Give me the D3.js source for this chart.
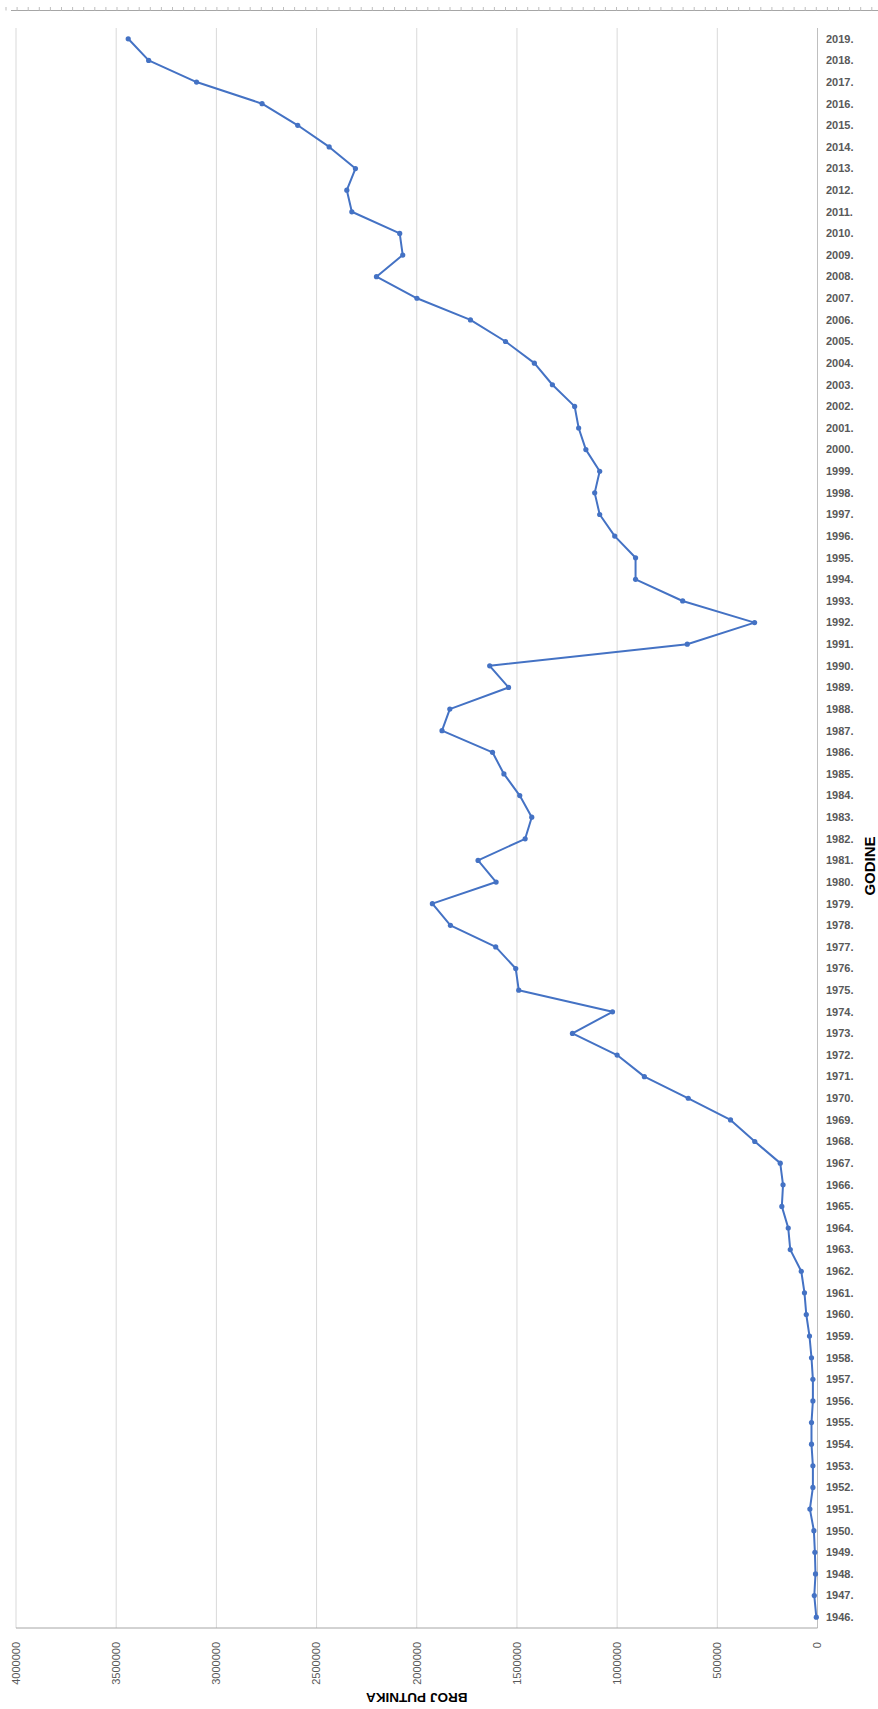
<!DOCTYPE html>
<html>
<head>
<meta charset="utf-8">
<script src="https://cdn.jsdelivr.net/npm/d3@7"></script>
<style>
body { margin: 0; background: #fff; }
</style>
</head>
<body>
<script>
var godine = d3.range(1946, 2020)
var putnici = [6000, 16000, 10000, 13000, 18000, 38000, 23000, 23000, 30000, 30000,
  23000, 23000, 30000, 40000, 56000, 65000, 81000, 136000, 146000, 178000,
  172000, 186000, 313000, 434000, 645000, 864000, 1000000, 1223000, 1023000, 1491000,
  1506000, 1606000, 1832000, 1922000, 1604000, 1694000, 1459000, 1426000, 1486000, 1565000,
  1622000, 1874000, 1835000, 1542000, 1636000, 650000, 314000, 673000, 908000, 908000,
  1012000, 1087000, 1112000, 1087000, 1156000, 1192000, 1212000, 1323000, 1413000, 1557000,
  1732000, 1999000, 2201000, 2070000, 2085000, 2324000, 2349000, 2306000, 2437000, 2594000,
  2772000, 3099000, 3338000, 3440000]
var oznakeVr = [0, 500000, 1000000, 1500000, 2000000, 2500000, 3000000, 3500000, 4000000]
var naslovX = "BROJ PUTNIKA"
var naslovY = "GODINE"

var dane = godine.map(function(g, i) { return {god: g, val: putnici[i]} })

var svg = d3.select("body").append("svg")
  .attr("width", 878)
  .attr("height", 1709)

var lewo = 16, prawo = 817.5, gora = 28, dol = 1628

var x = d3.scaleLinear().domain([0, 4000000]).range([prawo, lewo])
var y = d3.scaleBand().domain(godine).range([dol, gora])
var pol = y.bandwidth() / 2

// pasek na gorze (resztka osi)
svg.append("line").attr("x1", 11).attr("x2", 878).attr("y1", 10.5).attr("y2", 10.5)
  .style("stroke", "#a6a6a6").style("stroke-width", 1)
svg.append("g").selectAll("line")
  .data(d3.range(6, 878, 11.1))
  .enter()
  .append("line")
  .attr("x1", function(d) { return d }).attr("x2", function(d) { return d })
  .attr("y1", 7).attr("y2", 10.5)
  .style("stroke", "#bdbdbd").style("stroke-width", 1)

// linie siatki
svg.append("g").selectAll("line")
  .data(oznakeVr.filter(function(d) { return d > 0 }))
  .enter()
  .append("line")
  .attr("x1", function(d) { return x(d) }).attr("x2", function(d) { return x(d) })
  .attr("y1", gora).attr("y2", dol)
  .style("stroke", "#d9d9d9").style("stroke-width", 1)

// osie
svg.append("line").attr("x1", prawo).attr("x2", prawo).attr("y1", gora).attr("y2", dol)
  .style("stroke", "#bfbfbf").style("stroke-width", 1)
svg.append("line").attr("x1", lewo).attr("x2", prawo).attr("y1", dol).attr("y2", dol)
  .style("stroke", "#a6a6a6").style("stroke-width", 1)

// etykiety wartosci
svg.append("g").selectAll("text")
  .data(oznakeVr)
  .enter()
  .append("text")
  .attr("transform", function(d) { return "translate(" + x(d) + ",1642) rotate(-90)" })
  .attr("text-anchor", "end")
  .attr("dy", "0.35em")
  .style("font-family", "'Liberation Sans', Arial, sans-serif")
  .style("font-size", "11px")
  .style("fill", "#595959")
  .text(function(d) { return d })

// etykiety lat
svg.append("g").selectAll("text")
  .data(godine)
  .enter()
  .append("text")
  .attr("x", 826)
  .attr("y", function(d) { return y(d) + pol })
  .attr("dy", "0.35em")
  .style("font-family", "'Liberation Sans', Arial, sans-serif")
  .style("font-size", "11px")
  .style("font-weight", "bold")
  .style("fill", "#595959")
  .text(function(d) { return d + "." })

// tytuly osi
svg.append("text")
  .attr("transform", "translate(" + (lewo + prawo) / 2 + ",1698) rotate(180)")
  .attr("text-anchor", "middle")
  .attr("dy", "0.35em")
  .style("font-family", "'Liberation Sans', Arial, sans-serif")
  .style("font-size", "13.5px")
  .style("font-weight", "bold")
  .style("fill", "#000")
  .text(naslovX)
svg.append("text")
  .attr("transform", "translate(870,866) rotate(-90)")
  .attr("text-anchor", "middle")
  .attr("dy", "0.35em")
  .style("font-family", "'Liberation Sans', Arial, sans-serif")
  .style("font-size", "15px")
  .style("font-weight", "bold")
  .style("fill", "#000")
  .text(naslovY)

// linia
var linia = d3.line()
  .x(function(d) { return x(d.val) })
  .y(function(d) { return y(d.god) + pol })
svg.append("path")
  .datum(dane)
  .attr("d", linia)
  .style("fill", "none")
  .style("stroke", "#4472c4")
  .style("stroke-width", 2)
  .style("stroke-linejoin", "round")

svg.append("g").selectAll("circle")
  .data(dane)
  .enter()
  .append("circle")
  .attr("cx", function(d) { return x(d.val) })
  .attr("cy", function(d) { return y(d.god) + pol })
  .attr("r", 2.6)
  .style("fill", "#4472c4")
</script>
</body>
</html>
